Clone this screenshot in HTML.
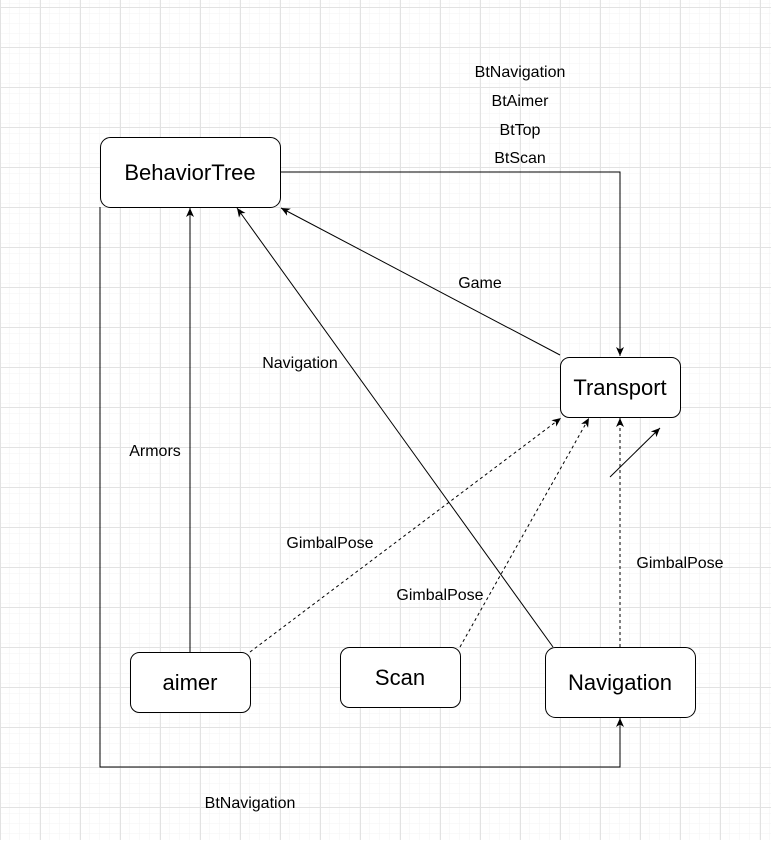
<!DOCTYPE html>
<html><head><style>
html,body{margin:0;padding:0;background:#fff;}
svg text{font-family:"Liberation Sans",sans-serif;}
</style></head><body>
<svg width="771" height="840" viewBox="0 0 771 840" xmlns="http://www.w3.org/2000/svg">
<defs>
<pattern id="minor" width="10" height="10" patternUnits="userSpaceOnUse" x="0" y="7">
<path d="M10 0V10M0 10H10" fill="none" stroke="#f3f3f3" stroke-width="1"/>
</pattern>
<pattern id="major" width="40" height="40" patternUnits="userSpaceOnUse" x="0" y="7">
<rect width="40" height="40" fill="url(#minor)"/>
<path d="M0.5 0V40M0 0.5H40" fill="none" stroke="#e2e2e2" stroke-width="1"/>
</pattern>
<marker id="a" markerWidth="10" markerHeight="10" refX="9" refY="5" orient="auto" markerUnits="userSpaceOnUse">
<path d="M0,1 L9,5 L0,9 L2.5,5 Z" fill="#000"/>
</marker>
</defs>
<rect width="771" height="840" fill="url(#major)"/>
<g fill="none" stroke="#000" stroke-width="1">
<path d="M280 172H620V356" marker-end="url(#a)"/>
<path d="M100 207V767H620V718" marker-end="url(#a)"/>
<path d="M190 652V208" marker-end="url(#a)"/>
<path d="M553 647L237 208" marker-end="url(#a)"/>
<path d="M560 355L281 208" marker-end="url(#a)"/>
<path d="M610 477L660 428" marker-end="url(#a)"/>
<g stroke-dasharray="3,3">
<path d="M250 652L561 418" marker-end="url(#a)"/>
<path d="M460 647L589 418" marker-end="url(#a)"/>
<path d="M620 647V418" marker-end="url(#a)"/>
</g>
</g>
<g fill="#fff" stroke="#000" stroke-width="1">
<rect x="100.5" y="137.5" width="180" height="70" rx="10"/>
<rect x="560.5" y="357.5" width="120" height="60" rx="9"/>
<rect x="130.5" y="652.5" width="120" height="60" rx="9"/>
<rect x="340.5" y="647.5" width="120" height="60" rx="9"/>
<rect x="545.5" y="647.5" width="150" height="70" rx="10"/>
</g>
<g font-size="22" text-anchor="middle" fill="#000">
<text x="190" y="180">BehaviorTree</text>
<text x="620" y="395">Transport</text>
<text x="190" y="690">aimer</text>
<text x="400" y="685">Scan</text>
<text x="620" y="690">Navigation</text>
</g>
<g font-size="16" text-anchor="middle" fill="#000">
<text x="520" y="77">BtNavigation</text>
<text x="520" y="106">BtAimer</text>
<text x="520" y="135">BtTop</text>
<text x="520" y="163">BtScan</text>
<text x="480" y="288">Game</text>
<text x="300" y="368">Navigation</text>
<text x="155" y="456">Armors</text>
<text x="330" y="548">GimbalPose</text>
<text x="440" y="600">GimbalPose</text>
<text x="680" y="568">GimbalPose</text>
<text x="250" y="808">BtNavigation</text>
</g>
</svg>
</body></html>
